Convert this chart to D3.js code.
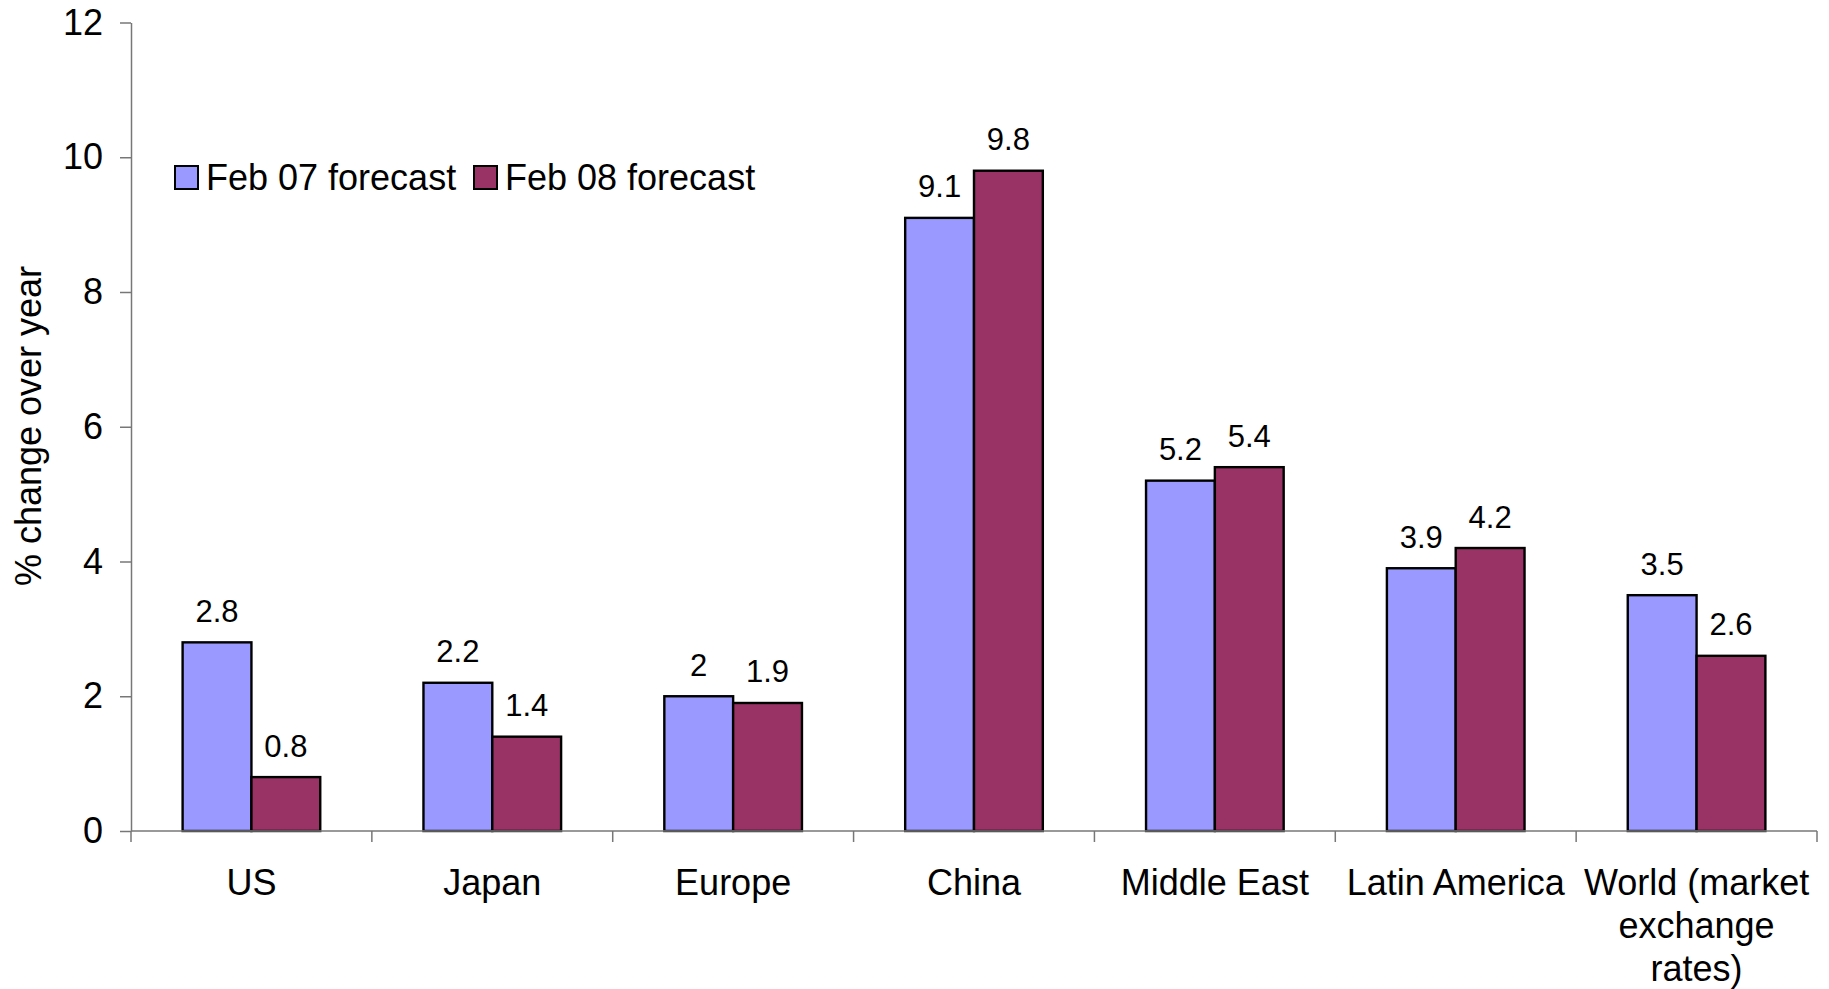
<!DOCTYPE html>
<html>
<head>
<meta charset="utf-8">
<script src="https://cdn.jsdelivr.net/npm/d3@7"></script>
<style>
  body { margin: 0; background: #fff; }
  text { font-family: "Liberation Sans", Arial, sans-serif; fill: #000; }
</style>
</head>
<body>
<svg id="chart" width="1829" height="989"></svg>
<script>
var categories = ["US", "Japan", "Europe", "China", "Middle East", "Latin America", "World (market exchange rates)"];
var seriesNames = ["Feb 07 forecast", "Feb 08 forecast"];
var feb07 = [2.8, 2.2, 2, 9.1, 5.2, 3.9, 3.5];
var feb08 = [0.8, 1.4, 1.9, 9.8, 5.4, 4.2, 2.6];
var yTicks = [0, 2, 4, 6, 8, 10, 12];
var colors = ["#9999ff", "#993366"];

var svg = d3.select("#chart");

var plotLeft = 131, plotRight = 1817, plotTop = 22.5, plotBottom = 831;

var x0 = d3.scaleBand().domain(categories).range([plotLeft, plotRight]).padding(0);
var x1 = d3.scaleBand().domain(seriesNames).range([0, x0.bandwidth()])
    .paddingInner(0).paddingOuter(0.75);
var y = d3.scaleLinear().domain([0, 12]).range([plotBottom, plotTop]);

var data = categories.map(function(c, i) {
  return { cat: c, values: [
    { key: seriesNames[0], v: feb07[i] },
    { key: seriesNames[1], v: feb08[i] }
  ]};
});

// y axis
var yAxis = svg.append("g")
    .attr("transform", "translate(" + plotLeft + ",0)")
    .call(d3.axisLeft(y).tickValues(yTicks).tickSize(11).tickSizeOuter(0).tickPadding(17));
yAxis.select(".domain").attr("stroke", "#777").attr("stroke-width", 1.5);
yAxis.selectAll(".tick line").attr("stroke", "#777").attr("stroke-width", 1.5);
yAxis.selectAll(".tick text")
    .style("font-family", "Liberation Sans, Arial, sans-serif")
    .style("font-size", "36px")
    .attr("fill", "#000");

// y title
svg.append("text")
    .attr("transform", "translate(41,426) rotate(-90)")
    .attr("text-anchor", "middle")
    .style("font-size", "36px")
    .text("% change over year");

// bars
var groups = svg.selectAll("g.grp").data(data).enter().append("g")
    .attr("class", "grp")
    .attr("transform", function(d) { return "translate(" + x0(d.cat) + ",0)"; });

groups.selectAll("rect").data(function(d) { return d.values; }).enter().append("rect")
    .attr("x", function(d) { return x1(d.key); })
    .attr("y", function(d) { return y(d.v); })
    .attr("width", x1.bandwidth())
    .attr("height", function(d) { return y(0) - y(d.v); })
    .attr("fill", function(d, i) { return colors[i]; })
    .attr("stroke", "#000")
    .attr("stroke-width", 2.4);

groups.selectAll("text.val").data(function(d) { return d.values; }).enter().append("text")
    .attr("class", "val")
    .attr("x", function(d) { return x1(d.key) + x1.bandwidth() / 2; })
    .attr("y", function(d) { return y(d.v) - 20.5; })
    .attr("text-anchor", "middle")
    .style("font-size", "31px")
    .text(function(d) { return d.v; });

// x axis
svg.append("line")
    .attr("x1", plotLeft).attr("x2", plotRight)
    .attr("y1", plotBottom).attr("y2", plotBottom)
    .attr("stroke", "#777").attr("stroke-width", 1.5);

var tickXs = categories.map(function(c) { return x0(c); }).concat([plotRight]);
svg.selectAll("line.xt").data(tickXs).enter().append("line")
    .attr("class", "xt")
    .attr("x1", function(d) { return d; }).attr("x2", function(d) { return d; })
    .attr("y1", plotBottom).attr("y2", plotBottom + 11)
    .attr("stroke", "#777").attr("stroke-width", 1.5);

var catLines = {
  "World (market exchange rates)": ["World (market", "exchange", "rates)"]
};
svg.selectAll("text.cat").data(categories).enter().append("text")
    .attr("class", "cat")
    .attr("text-anchor", "middle")
    .style("font-size", "36px")
    .each(function(c) {
      var lines = catLines[c] || [c];
      var t = d3.select(this);
      lines.forEach(function(l, i) {
        t.append("tspan")
          .attr("x", x0(c) + x0.bandwidth() / 2)
          .attr("y", 895 + i * 43)
          .text(l);
      });
    });

// legend
var legend = svg.append("g").attr("transform", "translate(175,166)");
var legX = [0, 299];
seriesNames.forEach(function(s, i) {
  legend.append("rect")
    .attr("x", legX[i]).attr("y", 0)
    .attr("width", 23).attr("height", 23)
    .attr("fill", colors[i])
    .attr("stroke", "#000").attr("stroke-width", 2);
  legend.append("text")
    .attr("x", legX[i] + 31).attr("y", 24)
    .style("font-size", "36px")
    .text(s);
});
</script>
</body>
</html>
